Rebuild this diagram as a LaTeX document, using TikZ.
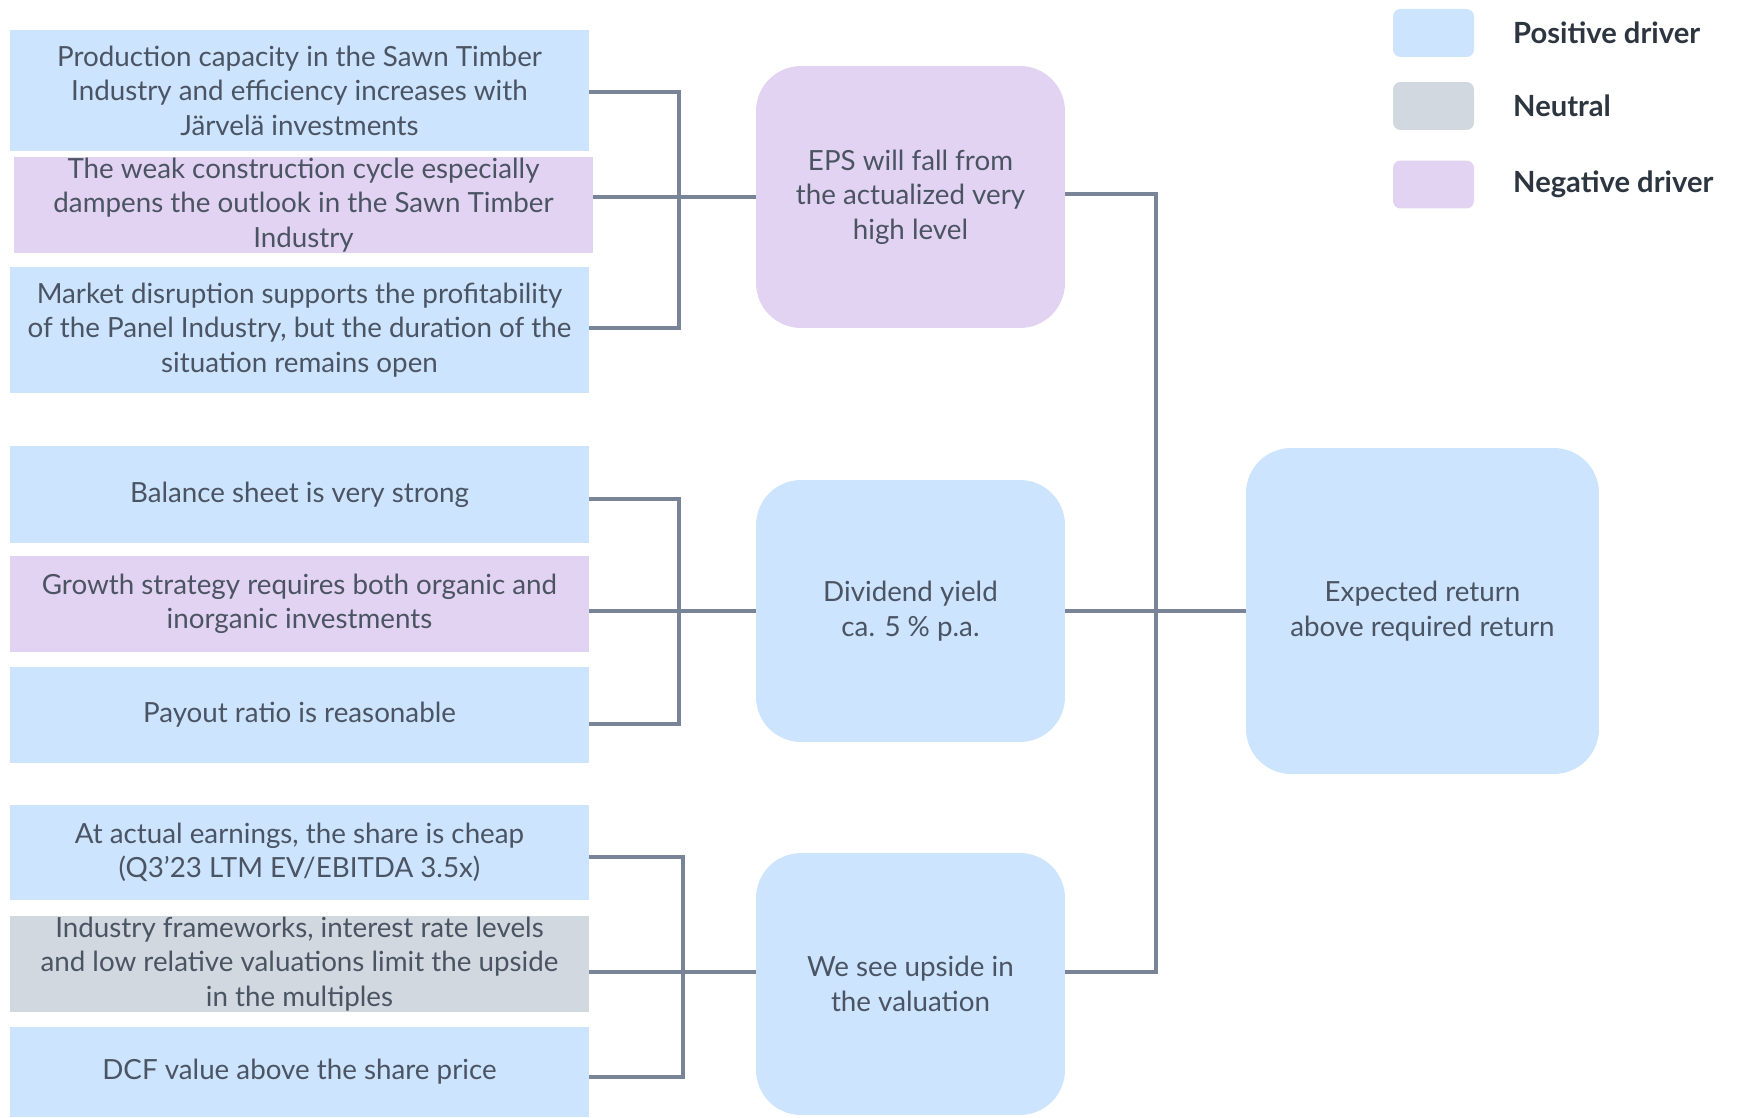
\documentclass[tikz,border=0pt]{standalone}
\usepackage{fontspec}
\setmainfont{Lato}
\usepackage{xcolor}
\usepackage{tikz}

\definecolor{posblue}{RGB}{204,228,253}
\definecolor{neggrape}{RGB}{227,211,243}
\definecolor{neutgray}{RGB}{209,216,224}
\definecolor{linkgray}{RGB}{122,132,153}
\definecolor{textgray}{RGB}{75,84,99}
\definecolor{legendink}{RGB}{45,54,64}

\tikzset{
  driver/.style={rectangle, minimum width=11.58cm, align=center, text=textgray,
    font=\fontsize{15.8}{19.6}\selectfont, inner sep=0pt},
  factor/.style={rectangle, rounded corners=0.9cm, minimum width=6.18cm,
    minimum height=5.24cm, align=center, text=textgray,
    font=\fontsize{15.8}{19.6}\selectfont},
  link/.style={draw=linkgray, line width=2.6pt},
  legendbox/.style={rectangle, rounded corners=0.15cm, minimum width=1.62cm,
    minimum height=0.96cm},
  legendtext/.style={anchor=west, text=legendink,
    font=\fontsize{16.6}{19}\selectfont\bfseries}
}

\begin{document}
\begin{tikzpicture}[x=0.02cm, y=-0.02cm]
  \useasboundingbox (0,0) rectangle (1738,1118);

  % left column: drivers
  \node (d1) at (299.5, 90.5) [driver, fill=posblue, minimum height=2.42cm]
    {Production capacity in the Sawn Timber\\Industry and efficiency increases with\\Järvelä investments};
  \node (d2) at (303.5, 205) [driver, fill=neggrape, minimum height=1.92cm]
    {The weak construction cycle especially\\dampens the outlook in the Sawn Timber\\Industry};
  \node (d3) at (299.5, 330) [driver, fill=posblue, minimum height=2.52cm]
    {Market disruption supports the profitability\\of the Panel Industry, but the duration of the\\situation remains open};
  \node (d4) at (299.5, 494.5) [driver, fill=posblue, minimum height=1.94cm]
    {Balance sheet is very strong};
  \node (d5) at (299.5, 604) [driver, fill=neggrape, minimum height=1.92cm]
    {Growth strategy requires both organic and\\inorganic investments};
  \node (d6) at (299.5, 715) [driver, fill=posblue, minimum height=1.92cm]
    {Payout ratio is reasonable};
  \node (d7) at (299.5, 852.5) [driver, fill=posblue, minimum height=1.9cm]
    {At actual earnings, the share is cheap\\(Q3'23 LTM EV/EBITDA 3.5x)};
  \node (d8) at (299.5, 964) [driver, fill=neutgray, minimum height=1.92cm]
    {Industry frameworks, interest rate levels\\and low relative valuations limit the upside\\in the multiples};
  \node (d9) at (299.5, 1072) [driver, fill=posblue, minimum height=1.8cm]
    {DCF value above the share price};

  % middle column
  \node (eps) at (910.5, 197) [factor, fill=neggrape]
    {EPS will fall from\\the actualized very\\high level};
  \node (div) at (910.5, 611) [factor, fill=posblue]
    {Dividend yield\\ca. 5 \% p.a.};
  \node (val) at (910.5, 984) [factor, fill=posblue]
    {We see upside in\\the valuation};

  % result
  \node (ret) at (1422.5, 611) [factor, fill=posblue, minimum width=7.06cm, minimum height=6.52cm]
    {Expected return\\above required return};

  % junctions
  \coordinate (j1) at (679, 197);
  \coordinate (j2) at (679, 611);
  \coordinate (j3) at (683, 972);
  \coordinate (j4) at (1156, 611);

  \draw[link] ([yshift=-0.03cm]d1.east) -- ([yshift=-0.03cm]d1.east -| j1) -- ([yshift=0.04cm]d3.east -| j1) -- ([yshift=0.04cm]d3.east);
  \draw[link] (d2.east |- eps.west) -- (eps.west);
  \draw[link] ([yshift=-0.09cm]d4.east) -- ([yshift=-0.09cm]d4.east -| j2) -- ([yshift=-0.18cm]d6.east -| j2) -- ([yshift=-0.18cm]d6.east);
  \draw[link] (d5.east |- div.west) -- (div.west);
  \draw[link] ([yshift=-0.09cm]d7.east) -- ([yshift=-0.09cm]d7.east -| j3) -- ([yshift=-0.1cm]d9.east -| j3) -- ([yshift=-0.1cm]d9.east);
  \draw[link] (d8.east |- j3) -- (val.west |- j3);
  \draw[link] ([yshift=0.06cm]eps.east) -- ([yshift=0.06cm]eps.east -| j4) -- (j4 |- j3) -- (val.east |- j3);
  \draw[link] (div.east) -- (ret.west);

  % legend
  \foreach \y/\c/\t in {33/posblue/Positive driver, 106/neutgray/Neutral, 184.5/neggrape/Negative driver} {
    \node (lb\y) at (1433.5, \y) [legendbox, fill=\c] {};
    \node at (1507, \y) [legendtext] {\t};
  }
\end{tikzpicture}
\end{document}
